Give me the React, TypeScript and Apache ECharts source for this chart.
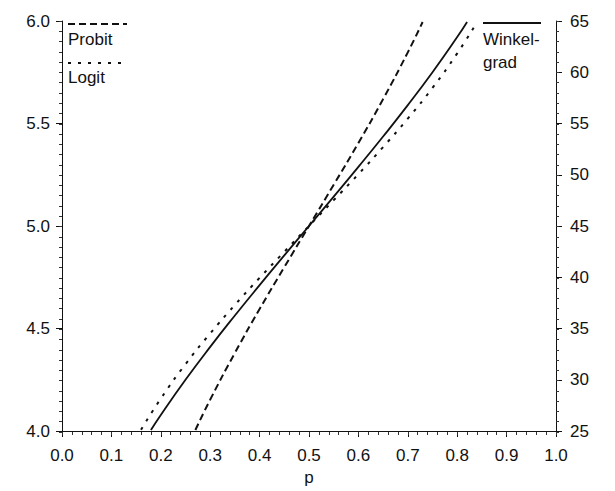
import React, { useEffect, useRef } from "react";
import * as echarts from "echarts";

// steep long-dashed curve (legend: "Probit"), left axis
const probitP = [0.27, 0.3, 0.35, 0.4, 0.45, 0.5, 0.55, 0.6, 0.65, 0.7, 0.73];
const probitY = [4.005, 4.153, 4.381, 4.595, 4.799, 5.0, 5.201, 5.405, 5.619, 5.847, 5.995];

// dotted curve (legend: "Logit"), left axis
const logitP = [0.16, 0.2, 0.25, 0.3, 0.35, 0.4, 0.45, 0.5, 0.55, 0.6, 0.65, 0.7, 0.75, 0.8, 0.84];
const logitY = [4.006, 4.158, 4.326, 4.476, 4.615, 4.747, 4.874, 5.0, 5.126, 5.253, 5.385, 5.524, 5.674, 5.842, 5.994];

// solid curve (legend: "Winkelgrad"), right axis
const winkelP = [0.18, 0.2, 0.25, 0.3, 0.35, 0.4, 0.45, 0.5, 0.55, 0.6, 0.65, 0.7, 0.75, 0.8, 0.82];
const winkelY = [25.1, 26.57, 30.0, 33.21, 36.27, 39.23, 42.13, 45.0, 47.87, 50.77, 53.73, 56.79, 60.0, 63.43, 64.9];

const xAxisName = "p";
const legendProbit = "Probit";
const legendLogit = "Logit";
const legendWinkel1 = "Winkel-";
const legendWinkel2 = "grad";

const FONT = "Liberation Sans, Arial, sans-serif";
const INK = "#111";
const FS = 17;

const zip = (xs: number[], ys: number[]) => xs.map((x, i) => [x, ys[i]]);

export default function App() {
  const ref = useRef<HTMLDivElement>(null);
  useEffect(() => {
    if (!ref.current) return;
    const chart = echarts.init(ref.current, null, { renderer: "svg" });
    const gridRect = { left: 62, right: 59, top: 21, bottom: 59 };
    const major = {
      axisLine: { show: true, lineStyle: { color: INK, width: 1 } },
      axisTick: { show: true, inside: false, length: 6, lineStyle: { color: INK, width: 1 } },
      splitLine: { show: false },
    };
    const minor = {
      axisLine: { show: false },
      axisTick: { show: true, inside: false, length: 3, lineStyle: { color: "#333", width: 1 } },
      axisLabel: { show: false },
      splitLine: { show: false },
      silent: true,
    };
    const label = { color: INK, fontSize: FS, fontFamily: FONT };
    chart.setOption({
      animation: false,
      backgroundColor: "#fff",
      grid: [gridRect, gridRect],
      xAxis: [
        {
          type: "value",
          gridIndex: 0,
          min: 0,
          max: 1,
          interval: 0.1,
          name: xAxisName,
          nameLocation: "middle",
          nameGap: 38,
          nameTextStyle: { color: INK, fontSize: FS, fontFamily: FONT },
          ...major,
          axisLabel: { ...label, margin: 16, formatter: (v: number) => v.toFixed(1) },
        },
        { type: "value", gridIndex: 1, position: "bottom", min: 0, max: 1, interval: 0.02, ...minor },
      ],
      yAxis: [
        {
          type: "value",
          gridIndex: 0,
          position: "left",
          min: 4,
          max: 6,
          interval: 0.5,
          ...major,
          axisLabel: { ...label, margin: 12, formatter: (v: number) => v.toFixed(1) },
        },
        {
          type: "value",
          gridIndex: 0,
          position: "right",
          min: 25,
          max: 65,
          interval: 5,
          ...major,
          axisLabel: { ...label, margin: 14 },
        },
        { type: "value", gridIndex: 1, position: "left", min: 4, max: 6, interval: 0.05, ...minor },
        { type: "value", gridIndex: 1, position: "right", min: 25, max: 65, interval: 1, ...minor },
      ],
      series: [
        {
          name: legendProbit,
          type: "line",
          xAxisIndex: 0,
          yAxisIndex: 0,
          data: zip(probitP, probitY),
          showSymbol: false,
          smooth: true,
          lineStyle: { color: INK, width: 2, type: [7, 4] },
        },
        {
          name: legendLogit,
          type: "line",
          xAxisIndex: 0,
          yAxisIndex: 0,
          data: zip(logitP, logitY),
          showSymbol: false,
          smooth: true,
          lineStyle: { color: INK, width: 2, type: [3, 7] },
        },
        {
          name: "Winkelgrad",
          type: "line",
          xAxisIndex: 0,
          yAxisIndex: 1,
          data: zip(winkelP, winkelY),
          showSymbol: false,
          smooth: true,
          lineStyle: { color: INK, width: 1.8, type: "solid" },
        },
      ],
      graphic: [
        { type: "line", shape: { x1: 68, y1: 24, x2: 127, y2: 24 }, style: { stroke: INK, lineWidth: 2, lineDash: [7, 4] } },
        { type: "text", left: 68, top: 31, style: { text: legendProbit, fill: INK, font: `${FS}px ${FONT}` } },
        { type: "line", shape: { x1: 68, y1: 63, x2: 127, y2: 63 }, style: { stroke: INK, lineWidth: 2, lineDash: [3, 7] } },
        { type: "text", left: 68, top: 69, style: { text: legendLogit, fill: INK, font: `${FS}px ${FONT}` } },
        { type: "line", shape: { x1: 483, y1: 23, x2: 541, y2: 23 }, style: { stroke: INK, lineWidth: 2 } },
        { type: "text", left: 483, top: 31, style: { text: legendWinkel1, fill: INK, font: `${FS}px ${FONT}` } },
        { type: "text", left: 483, top: 54, style: { text: legendWinkel2, fill: INK, font: `${FS}px ${FONT}` } },
      ],
    });
    return () => chart.dispose();
  }, []);
  return <div ref={ref} style={{ width: 615, height: 491, position: "absolute", left: 0, top: 0 }} />;
}
